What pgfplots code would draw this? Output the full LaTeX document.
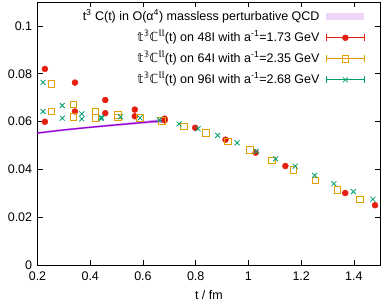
\documentclass[border=0pt]{standalone}
\usepackage{fontspec}
\setmainfont{Liberation Sans}
\newfontfamily\dvs{DejaVu Sans}
\usepackage{pgfplots}
\pgfplotsset{compat=1.18}
\usetikzlibrary{arrows.meta}
\definecolor{gpurple}{HTML}{9400D3}
\definecolor{gred}{HTML}{E51E10}
\definecolor{gorange}{HTML}{E69F00}
\definecolor{ggreen}{HTML}{009E73}
\pgfplotsset{
  ebleg/.style={legend image code/.code={
    \draw[##1,line width=0.8pt,{Bar[width=7pt]}-{Bar[width=7pt]}] (0pt,0pt) -- (38pt,0pt);
    \draw[##1] plot coordinates {(19pt,0pt)};}}
}
\begin{document}
\fontsize{12.5}{15}\selectfont
\begin{tikzpicture}
\useasboundingbox (-37.5pt,-39pt) rectangle (344.5pt,265pt);
\begin{axis}[
  at={(0,0)}, anchor=south west,
  scale only axis, width=342.8pt, height=263pt,
  xmin=0.2, xmax=1.5, ymin=0, ymax=0.11,
  xtick={0.2,0.4,0.6,0.8,1,1.2,1.4},
  ytick={0,0.02,0.04,0.06,0.08,0.1},
  scaled x ticks=false, scaled y ticks=false,
  xticklabel={\pgfmathprintnumber[fixed,precision=2]{\tick}},
  yticklabel={\pgfmathprintnumber[fixed,precision=2]{\tick}},
  /pgf/number format/assume math mode=true,
  tick align=inside, major tick length=5pt,
  axis line style={line width=0.8pt},
  major tick style={line width=0.8pt, black},
  tick label style={font=\fontsize{12.5}{15}\selectfont},
  xticklabel style={yshift=-2.5pt},
  yticklabel style={xshift=-1pt},
  xlabel={t / fm},
  xlabel style={yshift=-1pt},
  label style={font=\fontsize{12.5}{15}\selectfont},
  legend plot pos=right,
  legend cell align=right,
  legend style={at={(rel axis cs:0.9554,0.975)}, anchor=north east,
    draw=none, fill=none, inner sep=0pt, row sep=5pt,
    /tikz/column 1/.style={column sep=5pt},
    nodes={inner sep=1.5pt, text height=10pt, text depth=3pt},
    font=\fontsize{12.5}{15}\selectfont},
]
% perturbative band
\addplot[draw=none, fill=gpurple, fill opacity=0.4,
  legend image code/.code={\fill[gpurple!40] (0pt,-3.6pt) rectangle (38pt,3.6pt);}]
  coordinates {(0.2,0.0556)(0.3,0.0569)(0.4,0.0580)(0.5,0.0591)(0.6,0.0601)(0.68,0.0612)
               (0.68,0.0597)(0.6,0.0591)(0.5,0.0582)(0.4,0.0572)(0.3,0.0561)(0.2,0.0548)} -- cycle;
\addlegendentry{t\textsuperscript{3} C(t) in O(α\textsuperscript{4}) massless perturbative QCD}
\addplot[gpurple, line width=1.2pt, forget plot]
  coordinates {(0.2,0.0552)(0.3,0.0565)(0.4,0.0576)(0.5,0.0586)(0.6,0.0596)(0.68,0.0604)};
% 48I
\addplot[only marks, mark=*, mark size=3pt, draw=gred, fill=gred, ebleg]
  coordinates {(0.228,0.0820)(0.228,0.0599)(0.342,0.0763)(0.342,0.0642)(0.457,0.0690)(0.457,0.0635)
  (0.569,0.0650)(0.569,0.0622)(0.682,0.0612)(0.682,0.0605)(0.798,0.0574)(0.913,0.0524)
  (1.027,0.0470)(1.140,0.0414)(1.367,0.0301)(1.480,0.0250)};
\addlegendentry{{\dvs 𝕥}\textsuperscript{\dvs 𝟛}{\dvs ℂ}\textsuperscript{\dvs 𝕝𝕝}(t) on 48I with a\textsuperscript{-1}=1.73 GeV}
% 64I
\addplot[only marks, mark=square, mark size=3.3pt, draw=gorange, line width=0.8pt, ebleg]
  coordinates {(0.252,0.0758)(0.252,0.0642)(0.336,0.0672)(0.336,0.0620)(0.420,0.0642)(0.420,0.0616)
  (0.504,0.0628)(0.504,0.0617)(0.588,0.0615)(0.672,0.0603)(0.756,0.0579)(0.838,0.0553)
  (0.922,0.0517)(1.005,0.0482)(1.088,0.0438)(1.170,0.0399)(1.254,0.0354)(1.338,0.0313)(1.422,0.0275)};
\addlegendentry{{\dvs 𝕥}\textsuperscript{\dvs 𝟛}{\dvs ℂ}\textsuperscript{\dvs 𝕝𝕝}(t) on 64I with a\textsuperscript{-1}=2.35 GeV}
% 96I
\addplot[only marks, mark=x, mark size=3.5pt, draw=ggreen, line width=0.8pt, ebleg]
  coordinates {(0.221,0.0764)(0.221,0.0642)(0.294,0.0667)(0.294,0.0614)(0.368,0.0632)(0.368,0.0611)
  (0.442,0.0618)(0.442,0.0612)(0.515,0.0620)(0.589,0.0615)(0.662,0.0607)(0.737,0.0590)
  (0.809,0.0570)(0.883,0.0542)(0.957,0.0511)(1.030,0.0475)(1.103,0.0444)(1.177,0.0413)
  (1.251,0.0375)(1.324,0.0340)(1.398,0.0307)(1.472,0.0275)};
\addlegendentry{{\dvs 𝕥}\textsuperscript{\dvs 𝟛}{\dvs ℂ}\textsuperscript{\dvs 𝕝𝕝}(t) on 96I with a\textsuperscript{-1}=2.68 GeV}
\end{axis}
\end{tikzpicture}
\end{document}
